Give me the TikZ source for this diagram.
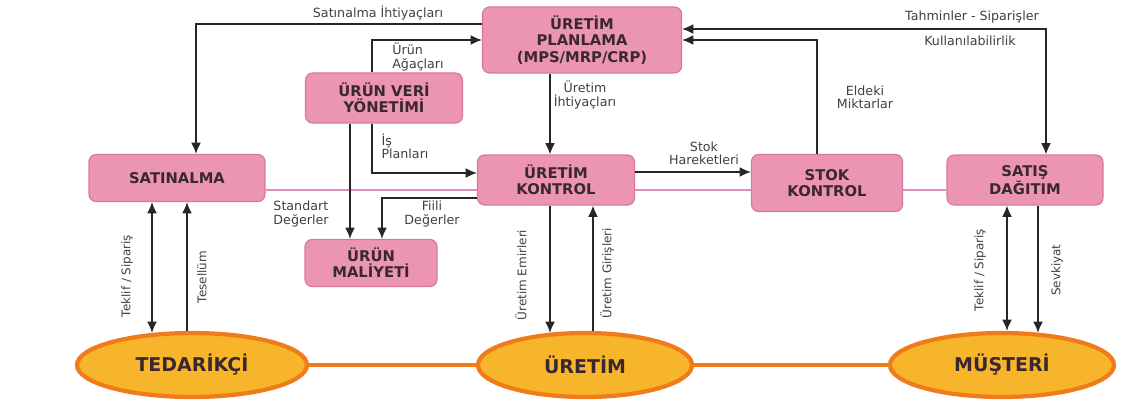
\documentclass[tikz,border=0pt]{standalone}
\usepackage{fontspec}
\setmainfont{DejaVu Sans}
\usetikzlibrary{calc,shapes.geometric,arrows.meta}
\definecolor{kutupembe}{HTML}{EC94B3}
\definecolor{kutucizgi}{HTML}{D9789C}
\definecolor{hatpembe}{HTML}{DA8DBA}
\definecolor{elipsdolgu}{HTML}{F7B52B}
\definecolor{elipscizgi}{HTML}{EF7B1B}
\definecolor{yazikoyu}{HTML}{3A2830}
\newcommand{\px}{0.025cm}

\begin{document}
\begin{tikzpicture}[x=\px,y=-\px,>={Latex[length=8pt,width=7pt]},
    modul/.style={draw=kutucizgi,fill=kutupembe,line width=0.8pt,rounded corners=5pt,align=center,text=yazikoyu,font=\fontsize{10.5}{11.5}\selectfont\bfseries,inner sep=0pt},
    taraf/.style={ellipse,draw=elipscizgi,fill=elipsdolgu,line width=3pt,text=yazikoyu,font=\fontsize{13.5}{14}\selectfont\bfseries,inner sep=0pt},
    akis/.style={->,line width=1.1pt,black!85},
    pembehat/.style={line width=1.5pt,hatpembe},
    turuncuhat/.style={line width=3pt,elipscizgi},
    etiket/.style={font=\fontsize{9}{9.5}\selectfont,text=black!75,align=center,inner sep=0pt},
    dikey/.style={font=\fontsize{8.5}{9}\selectfont,text=black!75,rotate=90,inner sep=0pt}]
              \useasboundingbox (0,0) rectangle (1128,400);

              \node[modul,minimum width=199*\px,minimum height=66*\px] (planlama) at (582,40) {ÜRETİM\\PLANLAMA\\(MPS/MRP/CRP)};
              \node[modul,minimum width=157*\px,minimum height=50*\px] (veri) at (384,98) {ÜRÜN VERİ\\YÖNETİMİ};
              \node[modul,minimum width=176*\px,minimum height=47*\px] (satinalma) at (177,178) {SATINALMA};
              \node[modul,minimum width=157*\px,minimum height=50*\px] (kontrol) at (556,180) {ÜRETİM\\KONTROL};
              \node[modul,minimum width=151*\px,minimum height=57*\px] (stok) at (827,183) {STOK\\KONTROL};
              \node[modul,minimum width=156*\px,minimum height=50*\px] (satis) at (1025,180) {SATIŞ\\DAĞITIM};
              \node[modul,minimum width=132*\px,minimum height=47*\px] (maliyet) at (371,263) {ÜRÜN\\MALİYETİ};

              \node[taraf,minimum width=230*\px,minimum height=64*\px] (tedarikci) at (192,365) {TEDARİKÇİ};
              \node[taraf,minimum width=214*\px,minimum height=64*\px] (uretim) at (585,365) {ÜRETİM};
              \node[taraf,minimum width=224*\px,minimum height=64*\px] (musteri) at (1002,365) {MÜŞTERİ};

              \draw[turuncuhat] (tedarikci) -- (uretim);
              \draw[turuncuhat] (uretim) -- (musteri);

              \coordinate (hat) at (0,190);
              \draw[pembehat] (satinalma.east |- hat) -- (kontrol.west |- hat);
              \draw[pembehat] (kontrol.east |- hat) -- (stok.west |- hat);
              \draw[pembehat] (stok.east |- hat) -- (satis.west |- hat);

              \draw[akis] ($(planlama.west)+(0,-16)$) -| ($(satinalma.north)+(19,0)$);
                \node[etiket] (l1) at (378,13) {Satınalma İhtiyaçları};
              \draw[akis] ($(veri.north)+(-12,0)$) |- (planlama.west);
                \node[etiket,align=left] (l2) at (418,57) {Ürün\\Ağaçları};
              \draw[akis] ($(veri.south)+(-12,0)$) |- ($(kontrol.west)+(0,-7)$);
                \node[etiket,align=left] (l3) at (405,146) {İş\\Planları};
              \draw[akis] ($(veri.south)+(-34,0)$) -- ($(maliyet.north)+(-21,0)$);
                \node[etiket,align=left] (l4) at (301,214) {Standart\\Değerler};
              \draw[akis] ($(kontrol.west)+(0,18)$) -| ($(maliyet.north)+(11,0)$);
                \node[etiket] (l5) at (432,214) {Fiili\\Değerler};
              \draw[akis] ($(planlama.south)+(-32,0)$) -- ($(kontrol.north)+(-6,0)$);
                \node[etiket] (l6) at (585,95) {Üretim\\İhtiyaçları};
              \draw[akis] ($(kontrol.east)+(0,-8)$) -- ($(stok.west)+(0,-11)$);
                \node[etiket] (l7) at (704,153) {Stok\\Hareketleri};
              \draw[akis] ($(stok.north)+(-10,0)$) |- (planlama.east);
                \node[etiket] (l8) at (865,97) {Eldeki\\Miktarlar};
              \draw[akis,<->] ($(planlama.east)+(0,-11)$) -| ($(satis.north)+(21,0)$);
                \node[etiket] (l9) at (972,17) {Tahminler - Siparişler};
                \node[etiket] (l10) at (970,41) {Kullanılabilirlik};

              \draw[akis,<->] ($(satinalma.south)+(-25,0)$) -- ($(tedarikci.north)+(-40,2)$);
                \node[dikey] (l11) at (127,276) {Teklif / Sipariş};
              \draw[akis,<-] ($(satinalma.south)+(10,0)$) -- ($(tedarikci.north)+(-5,0)$);
                \node[dikey] (l12) at (202,277) {Tesellüm};
              \draw[akis] ($(kontrol.south)+(-6,0)$) -- ($(uretim.north)+(-35,2)$);
                \node[dikey] (l13) at (521,275) {Üretim Emirleri};
              \draw[akis,<-] ($(kontrol.south)+(37,0)$) -- ($(uretim.north)+(8,0)$);
                \node[dikey] (l14) at (607,273) {Üretim Girişleri};
              \draw[akis,<->] ($(satis.south)+(-18,0)$) -- ($(musteri.north)+(5,0)$);
                \node[dikey] (l15) at (980,270) {Teklif / Sipariş};
              \draw[akis] ($(satis.south)+(13,0)$) -- ($(musteri.north)+(36,2)$);
                \node[dikey] (l16) at (1057,270) {Sevkiyat};

            \end{tikzpicture}
\end{document}
